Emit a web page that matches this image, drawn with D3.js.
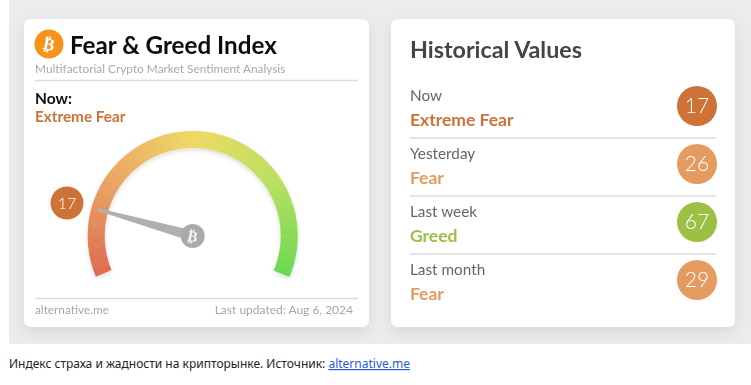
<!DOCTYPE html>
<html>
<head>
<meta charset="utf-8">
<script src="https://cdn.jsdelivr.net/npm/d3@7"></script>
<style>
  html, body { margin: 0; padding: 0; background: #fff; }
  svg { display: block; }
  text { font-family: Lato, sans-serif; }
  .soft { filter: blur(0.35px); }
</style>
</head>
<body>
<div id="chart"></div>
<script>
var nowValue = 17;
var nowLabel = 'Extreme Fear';

var historyPeriods = ['Now', 'Yesterday', 'Last week', 'Last month'];
var historyLabels = ['Extreme Fear', 'Fear', 'Greed', 'Fear'];
var historyValues = [17, 26, 67, 29];
var labelColors = { 'Extreme Fear': '#ce7238', 'Fear': '#e49b60', 'Greed': '#9bc044' };

var gaugeStops = [0, 25, 50, 75, 100];
var gaugeColors = ['#df6a50', '#e9a562', '#efd964', '#b9e05f', '#68d74e'];

var width = 751,
    height = 385;

var svg = d3.select('#chart')
    .append('svg')
    .attr('width', width)
    .attr('height', height)
    .attr('viewBox', '0 0 ' + width + ' ' + height);

var defs = svg.append('defs');
var shadow = defs.append('filter').attr('id', 'card-shadow')
    .attr('x', '-10%').attr('y', '-10%').attr('width', '120%').attr('height', '125%');
shadow.append('feDropShadow')
    .attr('dx', 0).attr('dy', 5).attr('stdDeviation', 7)
    .attr('flood-color', '#000').attr('flood-opacity', 0.09);
var arcShadow = defs.append('filter').attr('id', 'arc-shadow')
    .attr('x', '-10%').attr('y', '-10%').attr('width', '120%').attr('height', '120%');
arcShadow.append('feDropShadow')
    .attr('dx', 0).attr('dy', 2).attr('stdDeviation', 2)
    .attr('flood-color', '#000').attr('flood-opacity', 0.14);

// page background and the two cards
svg.append('rect').attr('x', 9).attr('y', 0).attr('width', 742).attr('height', 344).attr('fill', '#ececec');
svg.selectAll('rect.card')
    .data([24, 391])
    .enter().append('rect')
    .attr('class', 'card')
    .attr('x', function (d) { return d; })
    .attr('y', 19)
    .attr('width', function (d) { return d === 24 ? 345 : 344; })
    .attr('height', 308)
    .attr('rx', 7)
    .attr('fill', '#fff')
    .attr('filter', 'url(#card-shadow)');

function addText(parent, x, y, str, size, weight, color, anchor) {
    return parent.append('text')
        .attr('x', x)
        .attr('y', y)
        .attr('font-size', size)
        .attr('font-weight', weight)
        .attr('fill', color)
        .attr('text-anchor', anchor || 'start')
        .text(str);
}

function addRule(parent, x1, x2, y) {
    parent.append('line')
        .attr('x1', x1).attr('x2', x2).attr('y1', y).attr('y2', y)
        .attr('stroke', '#dcdcdc').attr('stroke-width', 1.3);
}

// left card header
var left = svg.append('g').attr('class', 'soft');
left.append('circle').attr('cx', 49).attr('cy', 44).attr('r', 14.5).attr('fill', '#f7931a');
addText(left, 49, 50, '₿', 17, 700, '#fff', 'middle')
    .attr('transform', 'rotate(12 49 44)')
    .style('font-family', 'DejaVu Sans');
addText(left, 70, 53.5, 'Fear & Greed Index', 24.2, 700, '#0c0c0c');
addText(left, 35, 73, 'Multifactorial Crypto Market Sentiment Analysis', 11.85, 400, '#a9a9a9');
addRule(left, 35, 358, 80.5);
addText(left, 35, 104, 'Now:', 15.5, 700, '#111');
addText(left, 35, 122, nowLabel, 15.3, 700, labelColors[nowLabel]);

// gauge
var gaugeX = 192.7,
    gaugeY = 236,
    outerR = 105,
    innerR = 88,
    sweep = 112.8 * Math.PI / 180;

var angle = d3.scaleLinear().domain([0, 100]).range([-sweep, sweep]);
var gaugeColor = d3.scaleLinear().domain(gaugeStops).range(gaugeColors);
var arc = d3.arc().innerRadius(innerR).outerRadius(outerR);

var gauge = left.append('g')
    .attr('transform', 'translate(' + gaugeX + ',' + gaugeY + ')');

gauge.append('g')
    .attr('filter', 'url(#arc-shadow)')
    .selectAll('path')
    .data(d3.range(0, 100, 0.5))
    .enter().append('path')
    .attr('d', function (d) {
        return arc({ startAngle: angle(d), endAngle: angle(d + 0.6) });
    })
    .attr('fill', function (d) { return gaugeColor(d); });

// needle
var tipR = 98.5,
    tipA = angle(nowValue),
    perpX = Math.cos(tipA),
    perpY = Math.sin(tipA),
    tipX = tipR * Math.sin(tipA),
    tipY = -tipR * Math.cos(tipA);

gauge.append('path')
    .attr('d', d3.line()([
        [tipX + perpX * 1.3, tipY + perpY * 1.3],
        [perpX * 5.5, perpY * 5.5],
        [-perpX * 5.5, -perpY * 5.5],
        [tipX - perpX * 1.3, tipY - perpY * 1.3]
    ]))
    .attr('fill', '#b0b0b0');
gauge.append('circle').attr('r', 12).attr('fill', '#aaaaaa');
addText(gauge, 0, 5.5, '₿', 15, 700, '#f4f4f4', 'middle')
    .attr('transform', 'rotate(12)')
    .style('font-family', 'DejaVu Sans');

left.append('circle').attr('cx', 67).attr('cy', 203).attr('r', 16.5).attr('fill', labelColors[nowLabel]);
addText(left, 67, 209, nowValue, 16, 300, '#fff', 'middle');

// left card footer
addRule(left, 35, 358, 298.5);
addText(left, 35, 314, 'alternative.me', 11.8, 400, '#a6a6a6');
addText(left, 353, 314, 'Last updated: Aug 6, 2024', 12, 400, '#a6a6a6', 'end');

// right card
var right = svg.append('g').attr('class', 'soft');
addText(right, 410, 58, 'Historical Values', 23.3, 700, '#444');

var rowY = d3.scalePoint().domain(historyPeriods).range([106, 280]);

var rows = right.selectAll('g.row')
    .data(historyPeriods)
    .enter().append('g')
    .attr('class', 'row')
    .attr('transform', function (d) { return 'translate(0,' + rowY(d) + ')'; });

rows.append('text')
    .attr('x', 410).attr('y', -5)
    .attr('font-size', 15.3)
    .attr('fill', '#666')
    .text(function (d) { return d; });

rows.append('text')
    .attr('x', 410).attr('y', 19.5)
    .attr('font-size', 17.5)
    .attr('font-weight', 700)
    .attr('fill', function (d, i) { return labelColors[historyLabels[i]]; })
    .text(function (d, i) { return historyLabels[i]; });

rows.append('circle')
    .attr('cx', 697)
    .attr('r', 20)
    .attr('fill', function (d, i) { return labelColors[historyLabels[i]]; });

rows.append('text')
    .attr('x', 697).attr('y', 7)
    .attr('text-anchor', 'middle')
    .attr('font-size', 21)
    .attr('font-weight', 300)
    .attr('fill', '#fff')
    .text(function (d, i) { return historyValues[i]; });

rows.filter(function (d, i) { return i < historyPeriods.length - 1; })
    .append('line')
    .attr('x1', 410).attr('x2', 716).attr('y1', 32).attr('y2', 32)
    .attr('stroke', '#dcdcdc').attr('stroke-width', 1.3);

// caption under the picture
var caption = svg.append('text')
    .attr('x', 9).attr('y', 368)
    .attr('font-size', 12)
    .attr('fill', '#222')
    .style('font-family', '"Noto Sans", sans-serif');
caption.append('tspan').text('Индекс страха и жадности на крипторынке. Источник: ');
caption.append('tspan')
    .attr('fill', '#2a5bd7')
    .attr('text-decoration', 'underline')
    .text('alternative.me');
</script>
</body>
</html>
